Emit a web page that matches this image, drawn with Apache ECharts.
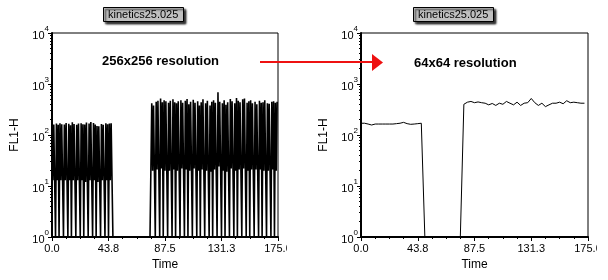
<!DOCTYPE html>
<html>
<head>
<meta charset="utf-8">
<script src="https://cdn.jsdelivr.net/npm/echarts@6/dist/echarts.min.js"></script>
<style>
  html, body { margin: 0; padding: 0; background: #fff; }
  #chart { width: 608px; height: 280px; }
</style>
</head>
<body>
<div id="chart"></div>
<script>
// time axis of both panels (seconds)
const timeMax = 175;
const timeTicks = [0, 43.75, 87.5, 131.25, 175];

// 256x256 panel: mean FL1-H per time channel (0 counts are drawn at 10^0)
const leftSegA = [
  165, 13, 160, 13, 1,   168, 13, 158, 1,   170, 13, 162, 13, 1,
  160, 13, 172, 13, 1,   166, 13, 155, 1,   178, 13, 164, 13, 1,
  158, 13, 168, 13, 1,   170, 13, 163, 1,   160, 12, 175, 13, 1,
  168, 13, 180, 13, 1,   172, 13, 160, 1,   150, 12, 148, 12, 1,
  165, 13, 158, 13, 1,   170, 13, 162, 1,   168, 13, 170, 13, 1
];
const leftGap = [
  1, 1, 1, 1, 1, 1, 1, 1, 1, 1, 1, 1, 1, 1, 1, 1, 1, 1, 1, 1, 1, 1,
  1, 1, 1, 1, 1, 1, 1, 1, 1, 1, 1, 1, 1, 1, 1, 1, 1, 1, 1, 1, 1
];
const leftSegB = [
  420, 20, 380, 19, 1,   450, 21, 470, 20, 1,   520, 22, 440, 1,
  480, 20, 460, 21, 1,   430, 20, 470, 22, 1,   500, 21, 440, 1,
  420, 20, 460, 21, 1,   480, 22, 430, 20, 1,   470, 21, 510, 1,
  400, 20, 450, 21, 1,   490, 22, 430, 21, 1,   460, 20, 380, 1,
  440, 21, 500, 20, 1,   420, 20, 470, 21, 1,   380, 19, 450, 1,
  480, 21, 430, 20, 1,   690, 24, 450, 22, 1,   420, 20, 480, 1,
  390, 19, 440, 20, 1,   510, 22, 460, 21, 1,   420, 20, 530, 1,
  470, 21, 440, 20, 1,   500, 22, 520, 21, 1,   430, 20, 460, 1,
  480, 21, 420, 20, 1,   450, 21, 400, 20, 1,   470, 21, 430, 1,
  440, 20, 480, 21, 1,   420, 20, 410, 20, 1,   450, 21, 460, 1,
  430, 20, 450
];
const leftFL1 = leftSegA.concat(leftGap, leftSegB);

// 64x64 panel
const rightFL1 = [
  170, 170, 164, 157, 164, 164, 164, 164, 164, 164, 167, 170, 177, 167, 162, 164, 167, 170,
  1, 1, 1, 1, 1, 1, 1, 1, 1, 1, 1,
  400, 440, 455, 430, 445, 430, 420, 390, 415, 380, 420, 400, 455, 420, 390, 440, 380, 420,
  430, 520, 430, 380, 420, 360, 390, 420, 420, 440, 410, 470, 430, 440, 430, 420, 420
];

const yMinorTicks = [
  2, 3, 4, 5, 6, 7, 8, 9,
  20, 30, 40, 50, 60, 70, 80, 90,
  200, 300, 400, 500, 600, 700, 800, 900,
  2000, 3000, 4000, 5000, 6000, 7000, 8000, 9000
];

const font = 'Arial, "Liberation Sans", sans-serif';

const toPairs = arr => arr.map((v, i) => [i * timeMax / arr.length, v]);

function xAxisFor(gridIndex) {
  return {
    type: 'value',
    gridIndex: gridIndex,
    min: 0,
    max: timeMax,
    interval: timeTicks[1],
    name: 'Time',
    nameLocation: 'middle',
    nameGap: 21,
    nameTextStyle: { color: '#000', fontSize: 12, fontFamily: font },
    axisLine: { show: true, lineStyle: { color: '#000', width: 2 } },
    axisTick: { show: true, inside: false, length: 4, lineStyle: { color: '#000' } },
    minorTick: { show: true, splitNumber: 4, length: 2, lineStyle: { color: '#000' } },
    axisLabel: {
      color: '#000', fontSize: 11, fontFamily: font, margin: 6,
      showMinLabel: true, showMaxLabel: true,
      formatter: v => v.toFixed(1)
    },
    splitLine: { show: false }
  };
}

function yAxisFor(gridIndex) {
  return {
    type: 'log',
    logBase: 10,
    gridIndex: gridIndex,
    position: 'left',
    min: 1,
    max: 10000,
    name: 'FL1-H',
    nameLocation: 'middle',
    nameGap: 31,
    nameTextStyle: { color: '#000', fontSize: 12, fontFamily: font },
    axisLine: { show: true, lineStyle: { color: '#000', width: 2 } },
    axisTick: { show: true, inside: false, length: 4, lineStyle: { color: '#000' } },
    axisLabel: {
      margin: 3,
      formatter: v => '{b|10}{s|' + Math.round(Math.log10(v)) + '}',
      rich: {
        b: { color: '#000', fontSize: 11, fontFamily: font, lineHeight: 16, verticalAlign: 'bottom' },
        s: { color: '#000', fontSize: 8, fontFamily: font, verticalAlign: 'top' }
      }
    },
    splitLine: { show: false }
  };
}

function yMinorFor(gridIndex) {
  return {
    type: 'log',
    logBase: 10,
    gridIndex: gridIndex,
    position: 'left',
    min: 1,
    max: 10000,
    axisLine: { show: false },
    axisLabel: { show: false },
    splitLine: { show: false },
    axisTick: { show: true, inside: false, length: 2, customValues: yMinorTicks, lineStyle: { color: '#000' } }
  };
}

const boxTitle = (text, left) => ({
  text: text,
  left: left,
  top: 7,
  padding: [2, 5, 2, 5],
  backgroundColor: '#c0c0c0',
  borderColor: '#000',
  borderWidth: 1,
  shadowColor: 'rgba(0,0,0,0.8)',
  shadowBlur: 2,
  shadowOffsetX: 2,
  shadowOffsetY: 2,
  textStyle: { color: '#000', fontSize: 11, fontWeight: 'normal', fontFamily: font }
});

const noteTitle = (text, left, top) => ({
  text: text,
  left: left,
  top: top,
  padding: 0,
  textStyle: { color: '#000', fontSize: 13, fontWeight: 'bold', fontFamily: font }
});

const chart = echarts.init(document.getElementById('chart'));

chart.setOption({
  animation: false,
  backgroundColor: '#fff',
  title: [
    boxTitle('kinetics25.025', 103),
    boxTitle('kinetics25.025', 413),
    noteTitle('256x256 resolution', 102, 55),
    noteTitle('64x64 resolution', 414, 57)
  ],
  grid: [
    { left: 52, top: 33, width: 226, height: 204, show: true, borderColor: '#000', borderWidth: 1 },
    { left: 361, top: 33, width: 227, height: 204, show: true, borderColor: '#000', borderWidth: 1 }
  ],
  xAxis: [xAxisFor(0), xAxisFor(1)],
  yAxis: [yAxisFor(0), yMinorFor(0), yAxisFor(1), yMinorFor(1)],
  series: [
    {
      type: 'line',
      xAxisIndex: 0,
      yAxisIndex: 0,
      data: toPairs(leftFL1),
      symbol: 'none',
      lineStyle: { color: '#000', width: 1.6 }
    },
    {
      type: 'line',
      xAxisIndex: 1,
      yAxisIndex: 2,
      data: toPairs(rightFL1),
      symbol: 'none',
      lineStyle: { color: '#000', width: 1 }
    }
  ],
  graphic: [
    // red arrow between the panels
    { type: 'line', z: 100, shape: { x1: 260, y1: 62, x2: 373, y2: 62 }, style: { stroke: '#ee1111', lineWidth: 2 } },
    { type: 'polygon', z: 100, shape: { points: [[372, 54], [383, 62.5], [372, 71]] }, style: { fill: '#ee1111' } },
    // last tick label is cut at the panel edge
    { type: 'rect', z: 100, shape: { x: 287, y: 241, width: 13, height: 14 }, style: { fill: '#fff' } },
    { type: 'rect', z: 100, shape: { x: 597, y: 241, width: 11, height: 14 }, style: { fill: '#fff' } }
  ]
});
</script>
</body>
</html>
